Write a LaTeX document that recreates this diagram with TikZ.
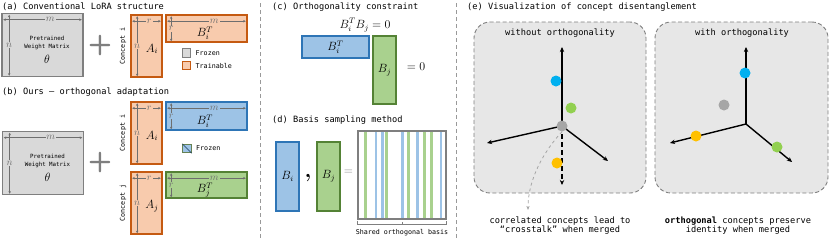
\documentclass[tikz,border=0pt]{standalone}
\usepackage{fontspec}
\setmonofont{DejaVu Sans Mono}
\definecolor{lrorange}{RGB}{197,90,17}
\definecolor{lrorangefill}{RGB}{248,203,173}
\definecolor{lrblue}{RGB}{46,117,182}
\definecolor{lrbluefill}{RGB}{157,195,230}
\definecolor{lrgreen}{RGB}{84,130,53}
\definecolor{lrgreenfill}{RGB}{169,209,142}
\definecolor{lrgray}{RGB}{127,127,127}
\definecolor{lrgrayfill}{RGB}{217,217,217}
\definecolor{lrpanel}{RGB}{231,231,231}
\definecolor{dimgray}{RGB}{110,110,110}
\definecolor{dotblue}{RGB}{0,176,240}
\definecolor{dotgreen}{RGB}{146,208,80}
\definecolor{dotyellow}{RGB}{255,192,0}
\definecolor{dotgray}{RGB}{166,166,166}
\usetikzlibrary{arrows.meta,calc}

\tikzset{
  paneltitle/.style={font=\ttfamily\fontsize{8.7}{10}\selectfont, anchor=west, inner sep=0pt},
  smalltxt/.style={font=\ttfamily\fontsize{6.7}{8}\selectfont, inner sep=0pt},
  captxt/.style={font=\ttfamily\fontsize{8.7}{9}\selectfont, inner sep=0pt, align=center},
  mathlbl/.style={font=\fontsize{11.5}{13}\selectfont, inner sep=0pt},
  mat/.style={line width=1.6bp, inner sep=0pt, font=\fontsize{11.5}{13}\selectfont},
  frozenmat/.style={mat, draw=lrgray, fill=lrgrayfill},
  trainmat/.style={mat, draw=lrorange, fill=lrorangefill},
  bluemat/.style={mat, draw=lrblue, fill=lrbluefill},
  greenmat/.style={mat, draw=lrgreen, fill=lrgreenfill},
  dimarr/.style={draw=dimgray, line width=0.6bp, {Stealth[length=2.6bp,width=2.4bp]}-{Stealth[length=2.6bp,width=2.4bp]}},
  dimlbl/.style={font=\fontsize{10}{10}\selectfont, text=dimgray, inner sep=0.8bp},
  legbox/.style={minimum size=8.5bp, inner sep=0pt, line width=1bp},
  concept/.style={smalltxt, rotate=90},
  plussign/.style={font=\sffamily\bfseries\fontsize{28}{28}\selectfont, text=lrgray, inner sep=0pt},
  axis/.style={line width=1.4bp, -{Stealth[length=5bp,width=4.4bp]}},
  dotnode/.style={circle, minimum size=11bp, inner sep=0pt},
  panelbox/.style={draw=lrgray, dashed, dash pattern=on 4bp off 2.5bp, line width=0.9bp, rounded corners=16bp, fill=lrpanel},
  divider/.style={draw=lrgray!80, dash pattern=on 4bp off 3bp, line width=0.8bp}
}

\begin{document}
\begin{tikzpicture}[x=1bp,y=-1bp]
  \useasboundingbox (0,0) rectangle (830,241);

  %% (a) Conventional LoRA structure
  \node[paneltitle] (ta) at (2,7) {(a) Conventional LoRA structure};
  \node[frozenmat, minimum width=81bp, minimum height=63bp] (pa) at (42.5,45) {};
  \draw[dimarr] ($(pa.north west)+(2,7)$) -- node[dimlbl, fill=lrgrayfill, pos=.6] (pam) {$m$} ($(pa.north east)+(-2,7)$);
  \draw[dimarr] ($(pa.north west)+(8,2)$) -- node[dimlbl, fill=lrgrayfill] (pan) {$n$} ($(pa.south west)+(8,-1.5)$);
  \node[font=\ttfamily\fontsize{5.8}{7.5}\selectfont, align=center, inner sep=0pt] (pat) at (47,43) {Pretrained\\Weight Matrix};
  \node[font=\fontsize{13}{14}\selectfont, inner sep=0pt] (pth) at (47,59) {$\theta$};
  \node[plussign] (pla) at (100,46) {+};

  \node[concept] (cia) at (123,46) {Concept i};
  \node[trainmat, minimum width=31bp, minimum height=62bp] (aia) at (146.5,46) {};
  \draw[dimarr] ($(aia.north west)+(2,7)$) -- node[dimlbl, fill=lrorangefill, pos=.6] (aiar) {$r$} ($(aia.north east)+(-2,7)$);
  \draw[dimarr] ($(aia.north west)+(7,2)$) -- node[dimlbl, fill=lrorangefill] (aian) {$n$} ($(aia.south west)+(7,-1.5)$);
  \node[mathlbl] (aial) at (152,49) {$A_i$};

  \node[trainmat, minimum width=81bp, minimum height=27bp] (bia) at (206.5,28.5) {};
  \draw[dimarr] ($(bia.north west)+(2,7)$) -- node[dimlbl, fill=lrorangefill, pos=.6] (biam) {$m$} ($(bia.north east)+(-2,7)$);
  \draw[dimarr] ($(bia.north west)+(6,2)$) -- node[dimlbl, fill=lrorangefill] (biar) {$r$} ($(bia.south west)+(6,-1.5)$);
  \node[mathlbl] (bial) at (205,33) {$B_i^T$};

  \node[legbox, draw=lrgray, fill=lrgrayfill] (lg1) at (186.5,53) {};
  \node[smalltxt, anchor=west] (lt1) at (195.5,53) {Frozen};
  \node[legbox, draw=lrorange, fill=lrorangefill] (lg2) at (186.5,65.5) {};
  \node[smalltxt, anchor=west] (lt2) at (195.5,65.5) {Trainable};

  %% (b) Ours - orthogonal adaptation
  \node[paneltitle] (tb) at (2,92) {(b) Ours – orthogonal adaptation};
  \node[frozenmat, minimum width=81bp, minimum height=63bp] (pb) at (43,163) {};
  \draw[dimarr] ($(pb.north west)+(2,7)$) -- node[dimlbl, fill=lrgrayfill, pos=.6] (pbm) {$m$} ($(pb.north east)+(-2,7)$);
  \draw[dimarr] ($(pb.north west)+(8,2)$) -- node[dimlbl, fill=lrgrayfill] (pbn) {$n$} ($(pb.south west)+(8,-1.5)$);
  \node[font=\ttfamily\fontsize{5.8}{7.5}\selectfont, align=center, inner sep=0pt] (pbt) at (47.5,161) {Pretrained\\Weight Matrix};
  \node[font=\fontsize{13}{14}\selectfont, inner sep=0pt] (pbth) at (47.5,177) {$\theta$};
  \node[plussign] (plb) at (100,163) {+};

  \node[concept] (cib) at (123,133) {Concept i};
  \node[trainmat, minimum width=31bp, minimum height=62bp] (aib) at (146.5,133) {};
  \draw[dimarr] ($(aib.north west)+(2,7)$) -- node[dimlbl, fill=lrorangefill, pos=.6] (aibr) {$r$} ($(aib.north east)+(-2,7)$);
  \draw[dimarr] ($(aib.north west)+(7,2)$) -- node[dimlbl, fill=lrorangefill] (aibn) {$n$} ($(aib.south west)+(7,-1.5)$);
  \node[mathlbl] (aibl) at (152,136) {$A_i$};

  \node[bluemat, minimum width=81bp, minimum height=28bp] (bib) at (206.5,116) {};
  \draw[dimarr] ($(bib.north west)+(2,7)$) -- node[dimlbl, fill=lrbluefill, pos=.6] (bibm) {$m$} ($(bib.north east)+(-2,7)$);
  \draw[dimarr] ($(bib.north west)+(6,2)$) -- node[dimlbl, fill=lrbluefill] (bibr) {$r$} ($(bib.south west)+(6,-1.5)$);
  \node[mathlbl] (bibl) at (205,121) {$B_i^T$};

  \node[legbox, draw=lrgreen!60!lrgray, fill=lrbluefill] (lg3) at (187,148.5) {};
  \draw[lrblue!50!black, line width=0.6bp] (lg3.north west) -- (lg3.south east);
  \node[smalltxt, anchor=west] (lt3) at (196,148.5) {Frozen};

  \node[concept] (cjb) at (123,203) {Concept j};
  \node[trainmat, minimum width=31bp, minimum height=62bp] (ajb) at (146.5,203) {};
  \draw[dimarr] ($(ajb.north west)+(2,7)$) -- node[dimlbl, fill=lrorangefill, pos=.6] (ajbr) {$r$} ($(ajb.north east)+(-2,7)$);
  \draw[dimarr] ($(ajb.north west)+(7,2)$) -- node[dimlbl, fill=lrorangefill] (ajbn) {$n$} ($(ajb.south west)+(7,-1.5)$);
  \node[mathlbl] (ajbl) at (152,206) {$A_j$};

  \node[greenmat, minimum width=81bp, minimum height=26bp] (bjb) at (206.5,185) {};
  \draw[dimarr] ($(bjb.north west)+(2,7)$) -- node[dimlbl, fill=lrgreenfill, pos=.6] (bjbm) {$m$} ($(bjb.north east)+(-2,7)$);
  \draw[dimarr] ($(bjb.north west)+(6,2)$) -- node[dimlbl, fill=lrgreenfill] (bjbr) {$r$} ($(bjb.south west)+(6,-1.5)$);
  \node[mathlbl] (bjbl) at (205,190) {$B_j^T$};

  %% dividers
  \draw[divider] (260,3) -- (260,238);
  \draw[divider] (456,3) -- (456,238);

  %% (c) Orthogonality constraint
  \node[paneltitle] (tc) at (272,7) {(c) Orthogonality constraint};
  \node[mathlbl] (ceq) at (365,25) {$B_i^TB_j=0$};
  \node[bluemat, minimum width=67bp, minimum height=22bp] (cbi) at (335.5,47) {$B_i^T$};
  \node[greenmat, minimum width=23bp, minimum height=68bp] (cbj) at (384.5,70) {$B_j$};
  \node[mathlbl] (czero) at (416,67) {$=0$};

  %% (d) Basis sampling method
  \node[paneltitle] (td) at (272,120) {(d) Basis sampling method};
  \node[bluemat, minimum width=23bp, minimum height=69bp] (dbi) at (287.5,176.5) {$B_i$};
  \node[font=\bfseries\fontsize{22}{22}\selectfont, inner sep=0pt] (dcm) at (308,178) {,};
  \node[greenmat, minimum width=23bp, minimum height=69bp] (dbj) at (328.5,176.5) {$B_j$};
  \node[mathlbl, text=lrgray] (deq) at (348.5,172) {$=$};
  \foreach \sx/\sc in {365.7/lrgreenfill, 376/lrbluefill, 382.3/lrbluefill, 386.7/lrgreenfill, 402.3/lrbluefill,
                       408.3/lrgreenfill, 417.3/lrbluefill, 424.3/lrgreenfill, 431.7/lrgreenfill, 441/lrbluefill}
    \fill[\sc] (\sx-1.3,131.5) rectangle (\sx+1.3,218.5);
  \node[draw=lrgray, line width=1.2bp, minimum width=88bp, minimum height=88bp, inner sep=0pt] (dbs) at (402,175) {};
  \draw[lrgray, line width=0.6bp] ($(dbs.south west)+(0,1)$) -- ($(dbs.south west)+(0,4.5)$) -- ($(dbs.south east)+(0,4.5)$) -- ($(dbs.south east)+(0,1)$);
  \draw[lrgray, line width=0.6bp] ($(dbs.south)+(0,4.5)$) -- ($(dbs.south)+(0,2)$);
  \node[smalltxt] (dlbl) at (402,233) {Shared orthogonal basis};

  %% (e) Visualization of concept disentanglement
  \node[paneltitle] (te) at (467,7) {(e) Visualization of concept disentanglement};
  \node[panelbox, minimum width=172bp, minimum height=171bp] (ewo) at (560,107.5) {};
  \node[panelbox, minimum width=173bp, minimum height=171bp] (ewi) at (741.5,107.5) {};
  \node[captxt] (ewot) at (560,33) {without orthogonality};
  \node[captxt] (ewit) at (742,33) {with orthogonality};

  % without orthogonality
  \coordinate (lo) at (562,126);
  \coordinate (lup) at (562,47);
  \coordinate (lleft) at (487,143);
  \coordinate (lright) at (608,161);
  \coordinate (ldown) at (562,185);
  \draw[axis] (lo) -- (lup);
  \draw[axis] (lo) -- (lleft);
  \draw[axis] (lo) -- (lright);
  \draw[axis, dashed, dash pattern=on 5bp off 3bp] (lo) -- (ldown);
  \node[dotnode, fill=dotblue] (lb) at (556,81) {};
  \node[dotnode, fill=dotgreen] (lgn) at (571,108) {};
  \node[dotnode, fill=dotgray] (lgr) at (562,126) {};
  \node[dotnode, fill=dotyellow] (ly) at (557,163) {};
  \coordinate (lcend) at (528,210);
  \draw[lrgray!70, line width=0.8bp, dashed, -{Stealth[length=4bp,width=3.2bp]}] (lgr.south) .. controls (545,150) and (528,178) .. (lcend);
  \node[captxt] (lcap) at (560,225.5) {correlated concepts lead to\\“crosstalk” when merged};

  % with orthogonality
  \coordinate (ro) at (746,124);
  \coordinate (rup) at (746,47);
  \coordinate (rleft) at (670,143);
  \coordinate (rright) at (792,162);
  \draw[axis] (ro) -- (rup);
  \draw[axis] (ro) -- (rleft);
  \draw[axis] (ro) -- (rright);
  \node[dotnode, fill=dotblue] (rb) at (745,73) {};
  \node[dotnode, fill=dotgray] (rgr) at (724,105) {};
  \node[dotnode, fill=dotyellow] (ry) at (696,136) {};
  \node[dotnode, fill=dotgreen] (rgn) at (777,147) {};
  \node[captxt] (rcap) at (738,226) {{\bfseries orthogonal} concepts preserve\\identity when merged};
\end{tikzpicture}
\end{document}
